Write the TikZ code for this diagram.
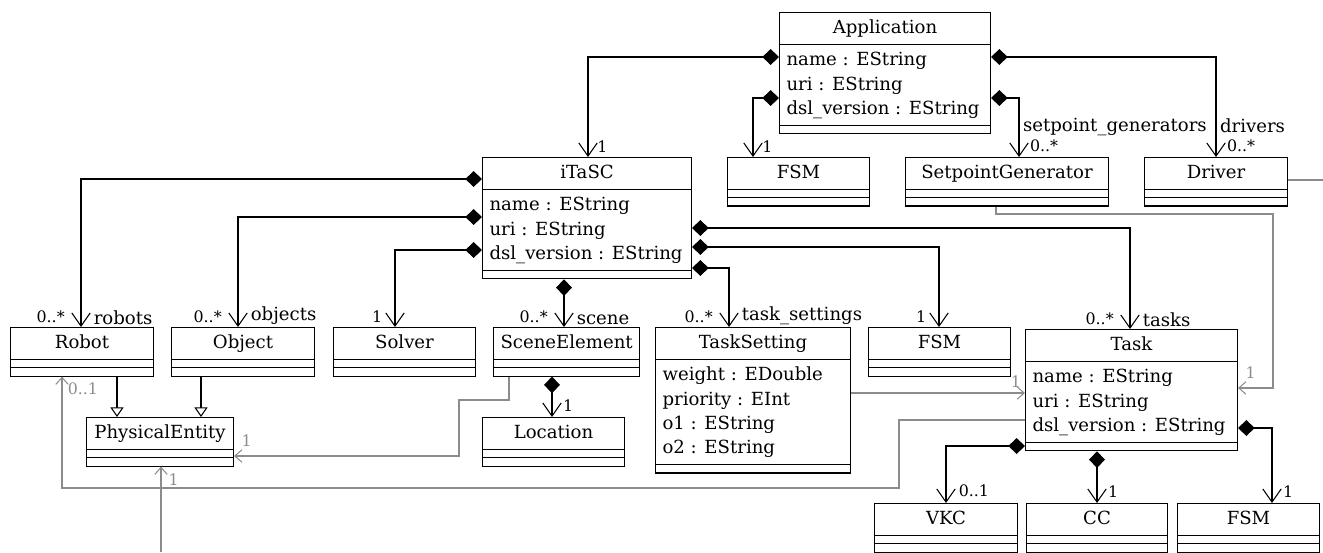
\documentclass[tikz,border=0pt]{standalone}
\usepackage{fontspec}
\setmainfont{DejaVu Serif}
\usetikzlibrary{arrows.meta,shapes.multipart}

\newcommand{\attrs}[1]{\begin{tabular}{@{}l@{}}#1\end{tabular}}
\newcommand{\noattr}{\hbox to 1pt{}}

\begin{document}
\begin{tikzpicture}[
    x=0.02cm, y=-0.02cm,
    font=\fontsize{10.3}{13.8}\selectfont,
    umlclass/.style={rectangle split, rectangle split parts=3, draw, line width=0.6pt, anchor=north west,
        inner xsep=4pt, inner ysep=2pt, rectangle split part align={center,left,left}},
    comp/.style={line width=0.6pt, {Diamond[length=9.5pt,width=9pt]}-{Straight Barb[length=7.5pt,width=10.5pt]}},
    inherit/.style={line width=0.6pt, -{Triangle[open,length=5.5pt,width=7.5pt,fill=white]}},
    ref/.style={black!45, line width=0.6pt, -{Straight Barb[length=4pt,width=7pt]}},
    mult/.style={font=\small, inner sep=1pt},
    role/.style={inner sep=1pt},
    gmult/.style={mult, text=black!45}
]
    \useasboundingbox (0,0) rectangle (1323,552);

    \node[umlclass, minimum width=4.22cm] (app) at (779,12) {\strut Application
        \nodepart{second}\attrs{name : EString\\ uri : EString\\ dsl\_version : EString}
        \nodepart{third}\noattr};
    \node[umlclass, minimum width=2.84cm] (fsma) at (727,157) {\strut FSM
        \nodepart{second}\noattr \nodepart{third}\noattr};
    \node[umlclass, minimum width=4.06cm] (spg) at (905,157) {\strut SetpointGenerator
        \nodepart{second}\noattr \nodepart{third}\noattr};
    \node[umlclass, minimum width=2.86cm] (driver) at (1144,157) {\strut Driver
        \nodepart{second}\noattr \nodepart{third}\noattr};
    \node[umlclass, minimum width=4.18cm] (itasc) at (482,157) {\strut iTaSC
        \nodepart{second}\attrs{name : EString\\ uri : EString\\ dsl\_version : EString}
        \nodepart{third}\noattr};
    \node[umlclass, minimum width=2.86cm] (robot) at (10,327) {\strut Robot
        \nodepart{second}\noattr \nodepart{third}\noattr};
    \node[umlclass, minimum width=2.86cm] (object) at (171,327) {\strut Object
        \nodepart{second}\noattr \nodepart{third}\noattr};
    \node[umlclass, minimum width=2.84cm] (solver) at (333,327) {\strut Solver
        \nodepart{second}\noattr \nodepart{third}\noattr};
    \node[umlclass, minimum width=2.88cm] (scene) at (493,327) {\strut SceneElement
        \nodepart{second}\noattr \nodepart{third}\noattr};
    \node[umlclass, minimum width=3.90cm] (tset) at (655,327) {\strut TaskSetting
        \nodepart{second}\attrs{weight : EDouble\\ priority : EInt\\ o1 : EString\\ o2 : EString}
        \nodepart{third}\noattr};
    \node[umlclass, minimum width=2.84cm] (fsmb) at (868,327) {\strut FSM
        \nodepart{second}\noattr \nodepart{third}\noattr};
    \node[umlclass, minimum width=4.24cm] (task) at (1025,329) {\strut Task
        \nodepart{second}\attrs{name : EString\\ uri : EString\\ dsl\_version : EString}
        \nodepart{third}\noattr};
    \node[umlclass, minimum width=2.94cm] (phys) at (86,417) {\strut PhysicalEntity
        \nodepart{second}\noattr \nodepart{third}\noattr};
    \node[umlclass, minimum width=2.84cm] (loc) at (482,417) {\strut Location
        \nodepart{second}\noattr \nodepart{third}\noattr};
    \node[umlclass, minimum width=2.86cm] (vkc) at (874,503) {\strut VKC
        \nodepart{second}\noattr \nodepart{third}\noattr};
    \node[umlclass, minimum width=2.82cm] (cc) at (1026,503) {\strut CC
        \nodepart{second}\noattr \nodepart{third}\noattr};
    \node[umlclass, minimum width=2.84cm] (fsmc) at (1177,503) {\strut FSM
        \nodepart{second}\noattr \nodepart{third}\noattr};

    \coordinate (drv-out) at (1323,180);
    \coordinate (pe-in) at (161,552);

    % compositions
    \draw[comp] (app.west |- 0,57) -| (itasc.north -| 588,0)
        node[mult, pos=1, anchor=south west, xshift=4pt, yshift=1pt] (m-itasc) {1};
    \draw[comp] (app.west |- 0,98) -| (fsma.north -| 753,0)
        node[mult, pos=1, anchor=south west, xshift=4pt, yshift=1pt] (m-fsma) {1};
    \draw[comp] (app.east |- 0,98) -| (spg.north -| 1019,0)
        node[role, pos=1, anchor=west, xshift=1pt, yshift=17pt] (r-spg) {setpoint\_generators}
        node[mult, pos=1, anchor=west, xshift=5pt, yshift=6.5pt] (m-spg) {0..*};
    \draw[comp] (app.east |- 0,57) -| (driver.north -| 1216,0)
        node[role, pos=1, anchor=west, xshift=1pt, yshift=18pt] (r-drv) {drivers}
        node[mult, pos=1, anchor=west, xshift=5pt, yshift=6.5pt] (m-drv) {0..*};

    \draw[comp] (itasc.west |- 0,179) -| (robot.north -| 81,0)
        node[mult, pos=1, anchor=south east, xshift=-8pt, yshift=1pt] (m-robot) {0..*}
        node[role, pos=1, anchor=south west, xshift=6pt] (r-robot) {robots};
    \draw[comp] (itasc.west |- 0,217) -| (object.north -| 238,0)
        node[mult, pos=1, anchor=south east, xshift=-8pt, yshift=1pt] (m-object) {0..*}
        node[role, pos=1, anchor=south west, xshift=6pt] (r-object) {objects};
    \draw[comp] (itasc.west |- 0,250) -| (solver.north -| 395,0)
        node[mult, pos=1, anchor=south east, xshift=-6pt, yshift=1pt] (m-solver) {1};
    \draw[comp] (itasc.south -| 564,0) -- (scene.north -| 564,0)
        node[mult, pos=1, anchor=south east, xshift=-8pt, yshift=1pt] (m-scene) {0..*}
        node[role, pos=1, anchor=south west, xshift=6pt] (r-scene) {scene};
    \draw[comp] (itasc.east |- 0,268) -| (tset.north -| 729,0)
        node[mult, pos=1, anchor=south east, xshift=-8pt, yshift=1pt] (m-tset) {0..*}
        node[role, pos=1, anchor=south west, xshift=6pt] (r-tset) {task\_settings};
    \draw[comp] (itasc.east |- 0,247) -| (fsmb.north -| 939,0)
        node[mult, pos=1, anchor=south east, xshift=-6pt, yshift=1pt] (m-fsmb) {1};
    \draw[comp] (itasc.east |- 0,228) -| (task.north -| 1130,0)
        node[mult, pos=1, anchor=south east, xshift=-8pt, yshift=1pt] (m-task) {0..*}
        node[role, pos=1, anchor=south west, xshift=6pt] (r-task) {tasks};

    \draw[comp] (scene.south -| 552,0) -- (loc.north -| 552,0)
        node[mult, pos=1, anchor=south west, xshift=5pt, yshift=2pt] (m-loc) {1};
    \draw[comp] (task.west |- 0,446) -| (vkc.north -| 946,0)
        node[mult, pos=1, anchor=south west, xshift=6pt, yshift=2pt] (m-vkc) {0..1};
    \draw[comp] (task.south -| 1097,0) -- (cc.north -| 1097,0)
        node[mult, pos=1, anchor=south west, xshift=5pt, yshift=2pt] (m-cc) {1};
    \draw[comp] (task.east |- 0,428) -| (fsmc.north -| 1272,0)
        node[mult, pos=1, anchor=south west, xshift=5pt, yshift=2pt] (m-fsmc) {1};

    % generalisations
    \draw[inherit] (robot.south -| 117,0) -- (phys.north -| 117,0);
    \draw[inherit] (object.south -| 201,0) -- (phys.north -| 201,0);

    % references
    \draw[ref] (scene.south -| 509,0) -- (509,400) -- (459,400) |- (phys.east |- 0,456)
        node[gmult, pos=1, anchor=south west, xshift=3pt, yshift=4pt] (g-phys) {1};
    \draw[ref] (tset.east |- 0,393) -- (task.west |- 0,393)
        node[gmult, pos=1, anchor=south east, xshift=-1pt, yshift=2pt] (g-tset) {1};
    \draw[ref] (task.west |- 0,420) -| (899,488) -| (robot.south -| 62,0)
        node[gmult, pos=1, anchor=north west, xshift=2pt, yshift=-2pt] (g-robot) {0..1};
    \draw[ref] (pe-in) -- (phys.south -| pe-in)
        node[gmult, pos=1, anchor=north west, xshift=3pt, yshift=-3pt] (g-pe) {1};
    \draw[ref] (spg.south -| 996,0) -- (996,214) -| (1273,388) -- (task.east |- 0,388)
        node[gmult, pos=1, anchor=south west, xshift=3pt, yshift=4pt] (g-task) {1};
    \draw[black!45, line width=0.6pt] (driver.east |- 0,180) -- (drv-out);
\end{tikzpicture}
\end{document}
